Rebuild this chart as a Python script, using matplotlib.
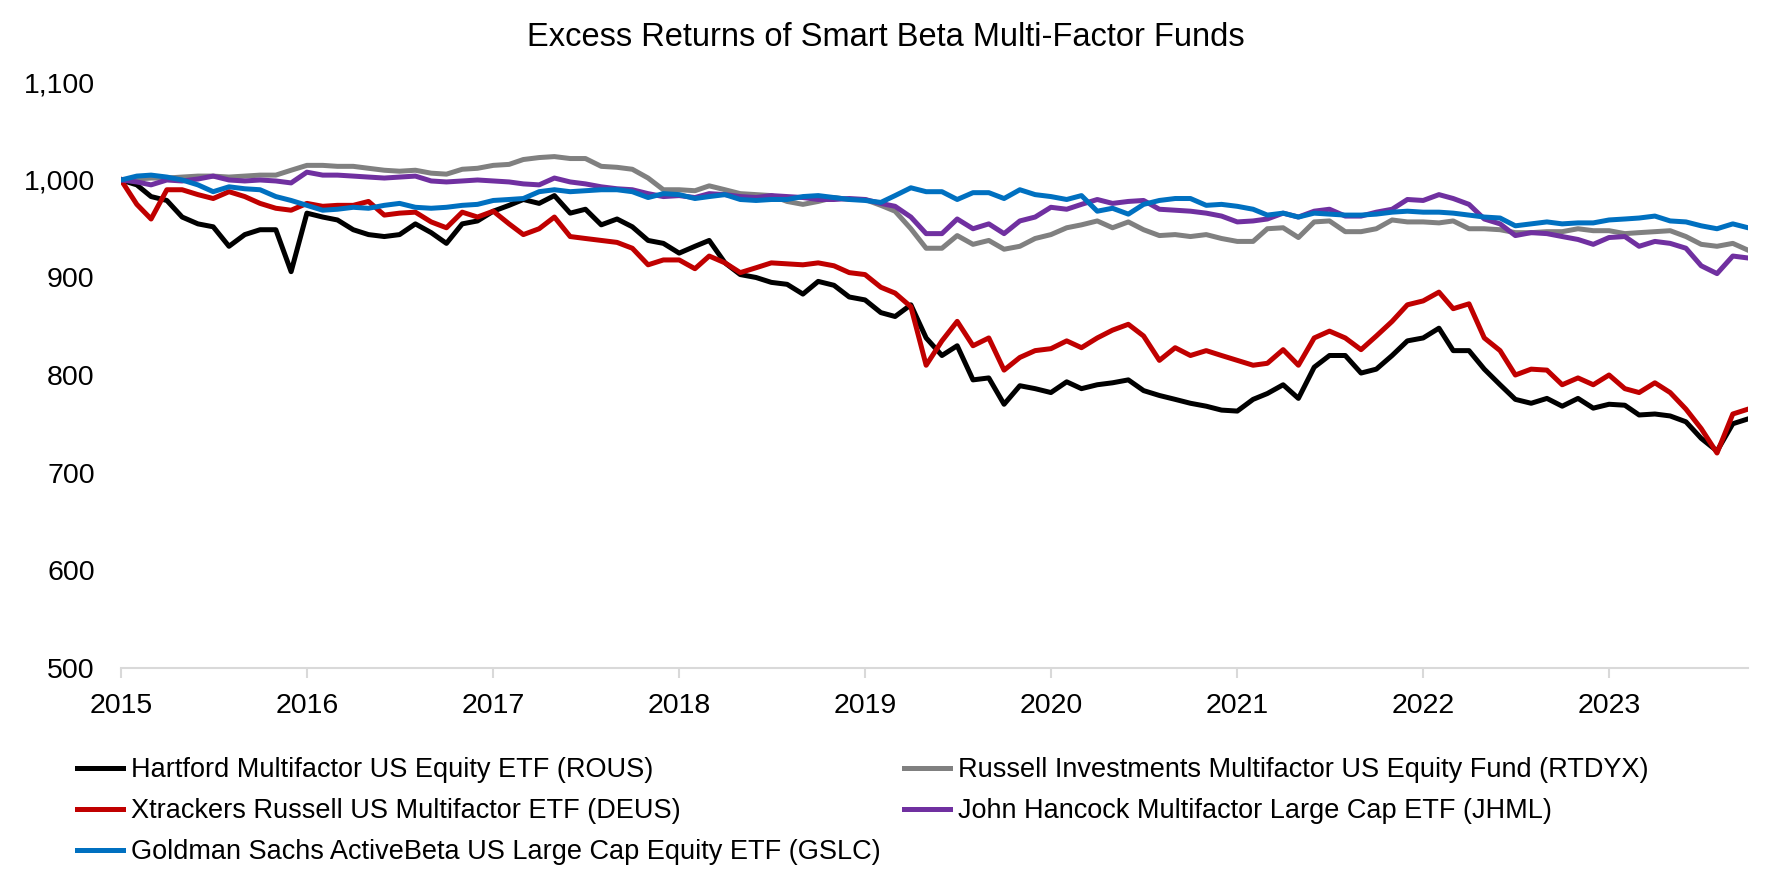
import matplotlib
matplotlib.use("Agg")
import matplotlib.pyplot as plt
import matplotlib.dates as mdates
from matplotlib.ticker import FuncFormatter
import pandas as pd

plt.rcParams['font.family'] = ['Liberation Sans', 'DejaVu Sans']

# monthly points, Jan 2015 .. Oct 2023
dates = pd.date_range('2015-01-01', periods=106, freq='MS')

rous = [1000, 995, 983, 979, 962, 955, 952, 932, 944, 949, 949, 906, 966, 962, 959, 949, 944, 942,
        944, 955, 946, 935, 955, 958, 968, 974, 980, 976, 984, 966, 970, 954, 960, 952, 938, 935,
        925, 932, 938, 915, 903, 900, 895, 893, 883, 896, 892, 880, 877, 864, 860, 872, 838,
        820, 830, 795, 797, 770, 789, 786, 782, 793, 786, 790, 792, 795, 784, 779, 775, 771, 768,
        764, 763, 775, 781, 790, 776, 808, 820, 820, 802, 806, 820, 835, 838, 848, 825, 825, 806,
        790, 775, 771, 776, 768, 776, 766, 770, 769, 759, 760, 758, 752, 735, 722, 750, 755]

rtdyx = [1000, 1001, 1002, 1002, 1003, 1004, 1004, 1003, 1004, 1005, 1005, 1010, 1015, 1015, 1014, 1014, 1012, 1010,
         1009, 1010, 1007, 1006, 1011, 1012, 1015, 1016, 1021, 1023, 1024, 1022, 1022, 1014, 1013, 1011, 1002, 990,
         990, 989, 994, 990, 986, 985, 984, 978, 975, 978, 982, 980, 980, 974, 968, 950, 930,
         930, 943, 934, 938, 929, 932, 940, 944, 951, 954, 958, 951, 957, 949, 943, 944, 942, 944,
         940, 937, 937, 950, 951, 941, 957, 958, 947, 947, 950, 959, 957, 957, 956, 958, 950, 950,
         949, 946, 946, 947, 947, 950, 948, 948, 945, 946, 947, 948, 942, 934, 932, 935, 928]

deus = [1000, 975, 960, 990, 990, 985, 981, 988, 983, 976, 971, 969, 976, 973, 974, 974, 978, 964,
        966, 967, 957, 951, 967, 962, 968, 955, 944, 950, 962, 942, 940, 938, 936, 930, 913, 918,
        918, 909, 922, 915, 905, 910, 915, 914, 913, 915, 912, 905, 903, 890, 884, 870, 810,
        835, 855, 830, 838, 805, 818, 825, 827, 835, 828, 838, 846, 852, 840, 815, 828, 820, 825,
        820, 815, 810, 812, 826, 810, 838, 845, 838, 826, 840, 855, 872, 876, 885, 868, 873, 838,
        825, 800, 806, 805, 790, 797, 790, 800, 786, 782, 792, 782, 765, 745, 720, 760, 765]

jhml = [1000, 998, 995, 1000, 999, 1001, 1004, 1000, 999, 1000, 999, 997, 1008, 1005, 1005, 1004, 1003, 1002,
        1003, 1004, 999, 998, 999, 1000, 999, 998, 996, 995, 1002, 998, 996, 993, 991, 990, 986, 983,
        984, 982, 986, 985, 983, 982, 984, 983, 982, 980, 980, 981, 980, 976, 973, 962, 945,
        945, 960, 950, 955, 945, 958, 962, 972, 970, 975, 980, 976, 978, 979, 970, 969, 968, 966,
        963, 957, 958, 960, 966, 962, 968, 970, 963, 963, 967, 970, 980, 979, 985, 981, 975, 960,
        955, 943, 946, 945, 942, 939, 934, 941, 942, 932, 937, 935, 930, 912, 904, 922, 920]

gslc = [1000, 1004, 1005, 1003, 1000, 995, 988, 993, 991, 990, 983, 979, 974, 969, 970, 972, 971, 974,
        976, 972, 971, 972, 974, 975, 979, 980, 981, 988, 990, 988, 989, 990, 990, 988, 982, 986,
        985, 981, 983, 985, 980, 979, 980, 980, 983, 984, 982, 980, 979, 977, 984, 992, 988,
        988, 980, 987, 987, 981, 990, 985, 983, 980, 984, 968, 971, 965, 975, 979, 981, 981, 974,
        975, 973, 970, 964, 966, 962, 966, 965, 964, 964, 965, 967, 968, 967, 967, 966, 964, 962,
        961, 953, 955, 957, 955, 956, 956, 959, 960, 961, 963, 958, 957, 953, 950, 955, 951]

labels = ['Hartford Multifactor US Equity ETF (ROUS)',
          'Russell Investments Multifactor US Equity Fund (RTDYX)',
          'Xtrackers Russell US Multifactor ETF (DEUS)',
          'John Hancock Multifactor Large Cap ETF (JHML)',
          'Goldman Sachs ActiveBeta US Large Cap Equity ETF (GSLC)']
colors = ['#000000', '#808080', '#C00000', '#7030A0', '#0070C0']
series = [rous, rtdyx, deus, jhml, gslc]

fig = plt.figure(figsize=(17.72, 8.86), dpi=100)
ax = fig.add_axes([0.0683, 0.2466, 0.9182, 0.6603])

lines = []
for vals, lab, col in zip(series, labels, colors):
    ln, = ax.plot(dates, vals, color=col, lw=3.6, label=lab, solid_joinstyle='round')
    lines.append(ln)

ax.set_ylim(500, 1100)
ax.set_yticks(range(500, 1101, 100))
ax.yaxis.set_major_formatter(FuncFormatter(lambda v, p: f'{v:,.0f}'))
ax.set_xlim(dates[0], dates[-1])
ax.xaxis.set_major_locator(mdates.YearLocator())
ax.xaxis.set_major_formatter(mdates.DateFormatter('%Y'))

for s in ['top', 'right', 'left']:
    ax.spines[s].set_visible(False)
ax.spines['bottom'].set_color('#D9D9D9')
ax.spines['bottom'].set_linewidth(1.5)
ax.tick_params(axis='y', length=0, pad=19, labelsize=20.5)
ax.tick_params(axis='x', direction='out', length=7, width=1.5, color='#D9D9D9', pad=11, labelsize=20.5)

fig.text(0.5, 1 - 38 / 886, 'Excess Returns of Smart Beta Multi-Factor Funds',
         ha='center', va='center', fontsize=23.5)

# legend: column-major order so rows match the original
order = [0, 2, 4, 1, 3]
fig.legend([lines[i] for i in order], [labels[i] for i in order],
           loc='upper left', bbox_to_anchor=(77 / 1772, 1 - 757 / 886),
           ncol=2, frameon=False, fontsize=19.5, borderpad=0, borderaxespad=0,
           handlelength=1.7, handletextpad=0.3, columnspacing=0.85, labelspacing=0.56)

fig.savefig('out.png', dpi=100)
